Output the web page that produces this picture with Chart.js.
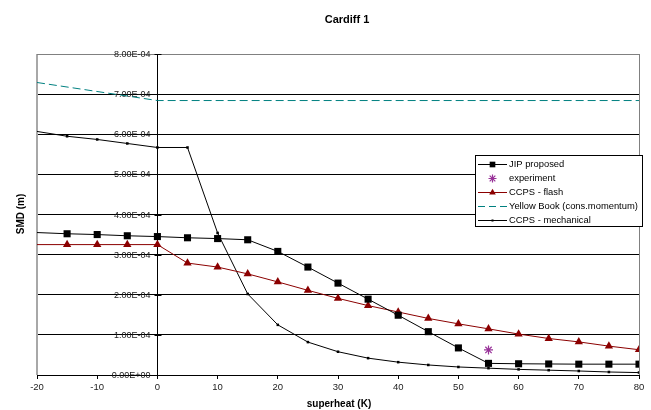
<!DOCTYPE html>
<html>
<head>
<meta charset="utf-8">
<script src="https://cdn.jsdelivr.net/npm/chart.js@4"></script>
<style>
  html, body { margin: 0; padding: 0; background: #fff; }
  canvas { display: block; }
</style>
</head>
<body>
<canvas id="c" width="651" height="410"></canvas>
<script>
const chartTitle = "Cardiff 1";
const xTitle = "superheat (K)";
const yTitle = "SMD (m)";
const seriesNames = ["JIP proposed", "experiment", "CCPS - flash", "Yellow Book (cons.momentum)", "CCPS - mechanical"];

const superheat = [-20, -15, -10, -5, 0, 5, 10, 15, 20, 25, 30, 35, 40, 45, 50, 55, 60, 65, 70, 75, 80];
const jipProposed = [3.55e-4, 3.52e-4, 3.50e-4, 3.47e-4, 3.45e-4, 3.42e-4, 3.40e-4, 3.37e-4, 3.08e-4, 2.69e-4, 2.29e-4, 1.89e-4, 1.49e-4, 1.08e-4, 0.675e-4, 0.29e-4, 0.28e-4, 0.275e-4, 0.27e-4, 0.27e-4, 0.27e-4];
const ccpsFlash = [3.25e-4, 3.25e-4, 3.25e-4, 3.25e-4, 3.25e-4, 2.79e-4, 2.69e-4, 2.52e-4, 2.32e-4, 2.11e-4, 1.91e-4, 1.73e-4, 1.57e-4, 1.41e-4, 1.275e-4, 1.15e-4, 1.02e-4, 0.91e-4, 0.825e-4, 0.72e-4, 0.63e-4];
const ccpsMechanical = [6.07e-4, 5.95e-4, 5.87e-4, 5.77e-4, 5.67e-4, 5.67e-4, 3.54e-4, 2.02e-4, 1.25e-4, 0.82e-4, 0.58e-4, 0.42e-4, 0.32e-4, 0.25e-4, 0.20e-4, 0.17e-4, 0.14e-4, 0.12e-4, 0.10e-4, 0.075e-4, 0.06e-4];
const yellowBookX = [-20, 0, 80];
const yellowBook = [7.29e-4, 6.84e-4, 6.84e-4];
const experimentX = [55];
const experiment = [0.625e-4];

const xTicks = { min: -20, max: 80, step: 10 };
const yTicks = { min: 0, max: 8e-4, step: 1e-4 };

function pts(xs, ys) { return xs.map((x, i) => ({ x: x, y: ys[i] })); }

function fmtE(v) {
  let s = Number(v).toExponential(2).toUpperCase();
  return s.replace(/E([+-])(\d)$/, "E$10$2");
}

const FONT = "'Liberation Sans', Arial, sans-serif";
const edgeHidden = (r) => (ctx) => (ctx.raw && ctx.raw.x === xTicks.min ? 0 : r);
const markerRadius = [5, 4.5, 4.8, 0, 1.8];

const datasets = [
  { label: seriesNames[0], data: pts(superheat, jipProposed), showLine: true,
    borderColor: '#000', backgroundColor: '#000', borderWidth: 1,
    pointStyle: 'rect', pointRadius: edgeHidden(markerRadius[0]), pointBorderWidth: 0 },
  { label: seriesNames[1], data: pts(experimentX, experiment), showLine: false,
    borderColor: '#993399', backgroundColor: '#993399', borderWidth: 1,
    pointStyle: 'star', pointRadius: markerRadius[1], pointBorderWidth: 1.2 },
  { label: seriesNames[2], data: pts(superheat, ccpsFlash), showLine: true,
    borderColor: '#8b0000', backgroundColor: '#8b0000', borderWidth: 1,
    pointStyle: 'triangle', pointRadius: edgeHidden(markerRadius[2]), pointBorderWidth: 0 },
  { label: seriesNames[3], data: pts(yellowBookX, yellowBook), showLine: true,
    borderColor: '#008080', backgroundColor: '#008080', borderWidth: 1, borderDash: [8, 4],
    pointRadius: 0 },
  { label: seriesNames[4], data: pts(superheat, ccpsMechanical), showLine: true,
    borderColor: '#000', backgroundColor: '#000', borderWidth: 1,
    pointStyle: 'rect', pointRadius: edgeHidden(markerRadius[4]), pointBorderWidth: 0 }
];

const frame = {
  id: 'frame',
  beforeDatasetsDraw(chart) {
    const { ctx, chartArea: a } = chart;
    ctx.save();
    ctx.strokeStyle = '#a8a8a8';
    ctx.lineWidth = 2;
    ctx.beginPath();
    ctx.moveTo(a.left, a.top); ctx.lineTo(a.left, a.bottom);
    ctx.stroke();
    ctx.strokeStyle = '#808080';
    ctx.lineWidth = 1;
    ctx.beginPath();
    ctx.moveTo(a.left, a.top + 0.5); ctx.lineTo(a.right, a.top + 0.5);
    ctx.moveTo(a.right + 0.5, a.top); ctx.lineTo(a.right + 0.5, a.bottom);
    ctx.stroke();

    // y-axis tick labels and crossing tick marks, positioned by the y scale
    const ys = chart.scales.y;
    const ax = Math.round(chart.scales.x.getPixelForValue(0)) + 0.5;
    ctx.fillStyle = '#1a1a1a';
    ctx.strokeStyle = '#000';
    ctx.font = "9px " + FONT;
    ctx.textAlign = 'right';
    ctx.textBaseline = 'middle';
    ys.ticks.forEach((t) => {
      const py = Math.round(ys.getPixelForValue(t.value)) + 0.5;
      ctx.beginPath();
      ctx.moveTo(ax - 3, py); ctx.lineTo(ax + 4, py);
      ctx.stroke();
      ctx.fillText(fmtE(t.value), ax - 7, py);
    });
    ctx.restore();
  },
  afterDraw(chart) {
    const { ctx } = chart;
    ctx.save();
    ctx.fillStyle = '#000';
    ctx.textAlign = 'center';
    ctx.textBaseline = 'middle';
    ctx.font = "bold 11px " + FONT;
    ctx.fillText(chartTitle, 347, 20);
    ctx.font = "bold 10px " + FONT;
    ctx.fillText(xTitle, 339, 404);
    ctx.translate(21, 214);
    ctx.rotate(-Math.PI / 2);
    ctx.fillText(yTitle, 0, 0);
    ctx.restore();

    // legend
    const L = 475, T = 155, W = 167, H = 71;
    ctx.save();
    ctx.fillStyle = '#fff';
    ctx.fillRect(L, T, W, H);
    ctx.strokeStyle = '#000';
    ctx.lineWidth = 1;
    ctx.strokeRect(L + 0.5, T + 0.5, W, H);
    ctx.font = "9.4px " + FONT;
    ctx.textBaseline = 'middle';
    ctx.textAlign = 'left';
    chart.data.datasets.forEach((ds, i) => {
      const y = T + 9 + i * 14;
      if (ds.showLine) {
        ctx.save();
        ctx.strokeStyle = ds.borderColor;
        ctx.lineWidth = 1;
        ctx.setLineDash(ds.borderDash ? [7, 4] : []);
        ctx.beginPath();
        ctx.moveTo(478, y + 0.5); ctx.lineTo(507, y + 0.5);
        ctx.stroke();
        ctx.restore();
      }
      if (ds.pointStyle && markerRadius[i] > 0) {
        ctx.save();
        ctx.fillStyle = ds.backgroundColor;
        ctx.strokeStyle = ds.borderColor;
        ctx.lineWidth = ds.pointBorderWidth || 0;
        Chart.helpers.drawPoint(ctx, {
          pointStyle: ds.pointStyle, radius: i === 1 ? 4 : markerRadius[i] * 0.8, rotation: 0,
          borderWidth: ds.pointBorderWidth || 0
        }, 492.5, y + 0.5);
        ctx.restore();
      }
      ctx.fillStyle = '#000';
      ctx.fillText(ds.label, 509, y + 0.5);
    });
    ctx.restore();
  }
};

new Chart(document.getElementById('c'), {
  type: 'scatter',
  data: { datasets: datasets },
  plugins: [frame],
  options: {
    responsive: false,
    animation: false,
    events: [],
    layout: { padding: { left: 37, right: 12, top: 54, bottom: 0 } },
    plugins: { legend: { display: false }, title: { display: false }, tooltip: { enabled: false } },
    scales: {
      x: {
        type: 'linear', position: 'bottom',
        min: xTicks.min, max: xTicks.max,
        afterFit: (s) => { s.height = 35; },
        ticks: { stepSize: xTicks.step, color: '#222', font: { family: FONT, size: 9.5 }, padding: 3, maxRotation: 0 },
        grid: { drawOnChartArea: false, drawTicks: true, tickLength: 4, color: '#000' },
        border: { display: true, color: '#000', width: 1 }
      },
      y: {
        type: 'linear', position: { x: 0 },
        min: yTicks.min, max: yTicks.max,
        ticks: { stepSize: yTicks.step, display: false },
        grid: { color: '#000', lineWidth: 1, drawTicks: false },
        border: { display: true, color: '#000', width: 1 }
      }
    }
  }
});
</script>
</body>
</html>
